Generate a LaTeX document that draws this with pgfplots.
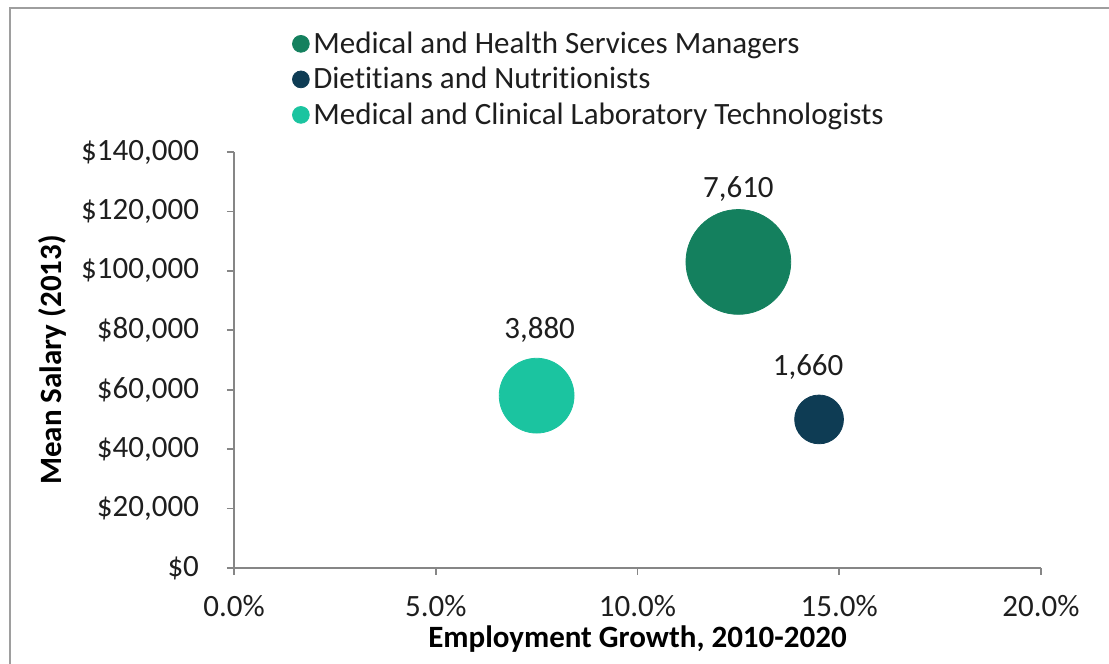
\documentclass[border=0pt]{standalone}
\usepackage{pgfplots}
\pgfplotsset{compat=1.18}
\usepackage{fontspec}
\setmainfont{Carlito}[Ligatures={NoCommon}]
\definecolor{cA}{RGB}{20,128,94}
\definecolor{cB}{RGB}{14,60,84}
\definecolor{cC}{RGB}{27,196,160}
\definecolor{txt}{RGB}{30,30,30}
\definecolor{axc}{RGB}{134,134,134}
\begin{document}
\begin{tikzpicture}[x=0.5pt,y=0.5pt]
\useasboundingbox (0,0) rectangle (1109,664);
\draw[color=axc!80, line width=1.2pt] (10,0) -- (10,656) -- (1109,656);
\begin{axis}[
  at={(117pt,48pt)}, anchor=south west,
  width=403.5pt, height=208pt, scale only axis,
  xmin=0, xmax=20, ymin=0, ymax=140000,
  scaled y ticks=false, scaled x ticks=false,
  axis lines=left, axis line style={-, draw=axc, line width=0.9pt},
  tick align=outside, major tick length=3.5pt,
  tick style={draw=axc, line width=0.9pt},
  xtick={0,5,10,15,20},
  xticklabels={0.0\%,5.0\%,10.0\%,15.0\%,20.0\%},
  ytick={0,20000,40000,60000,80000,100000,120000,140000},
  yticklabels={\$0,\$20{,}000,\$40{,}000,\$60{,}000,\$80{,}000,\$100{,}000,\$120{,}000,\$140{,}000},
  ticklabel style={font=\fontsize{15.5}{18}\selectfont, text=txt},
  xticklabel style={yshift=-6.5pt},
  yticklabel style={xshift=-10.5pt},
  xlabel={Employment Growth, 2010-2020},
  ylabel={Mean Salary (2013)},
  label style={font=\bfseries\fontsize{15.5}{18}\selectfont, text=black},
  xlabel style={yshift=2pt},
  ylabel style={yshift=0.5pt},
  clip=false,
  legend style={at={(0.072,1.30)}, anchor=north west, draw=none, fill=none,
    font=\fontsize{15.5}{18}\selectfont, text=txt, legend cell align=left,
    row sep=1.5pt, inner sep=0pt},
  legend image code/.code={\draw[#1] plot coordinates {(0.15cm,0cm)};},
]
\addlegendimage{only marks, mark=*, mark size=4.2pt, draw=cA, fill=cA}
\addlegendentry{Medical and Health Services Managers}
\addlegendimage{only marks, mark=*, mark size=4.2pt, draw=cB, fill=cB}
\addlegendentry{Dietitians and Nutritionists}
\addlegendimage{only marks, mark=*, mark size=4.2pt, draw=cC, fill=cC}
\addlegendentry{Medical and Clinical Laboratory Technologists}

\addplot[forget plot, only marks, mark=*, mark size=26.2pt, draw=cA, fill=cA,
  nodes near coords={7,610},
  every node near coord/.style={anchor=center, yshift=36.7pt, font=\fontsize{15.5}{18}\selectfont, text=txt}]
  coordinates {(12.5,103000)};
\addplot[forget plot, only marks, mark=*, mark size=12.2pt, draw=cB, fill=cB,
  nodes near coords={1,660},
  every node near coord/.style={anchor=center, yshift=26pt, xshift=-5.5pt, font=\fontsize{15.5}{18}\selectfont, text=txt}]
  coordinates {(14.5,50000)};
\addplot[forget plot, only marks, mark=*, mark size=18.7pt, draw=cC, fill=cC,
  nodes near coords={3,880},
  every node near coord/.style={anchor=center, yshift=32.7pt, xshift=1.5pt, font=\fontsize{15.5}{18}\selectfont, text=txt}]
  coordinates {(7.5,58000)};
\end{axis}
\end{tikzpicture}
\end{document}
